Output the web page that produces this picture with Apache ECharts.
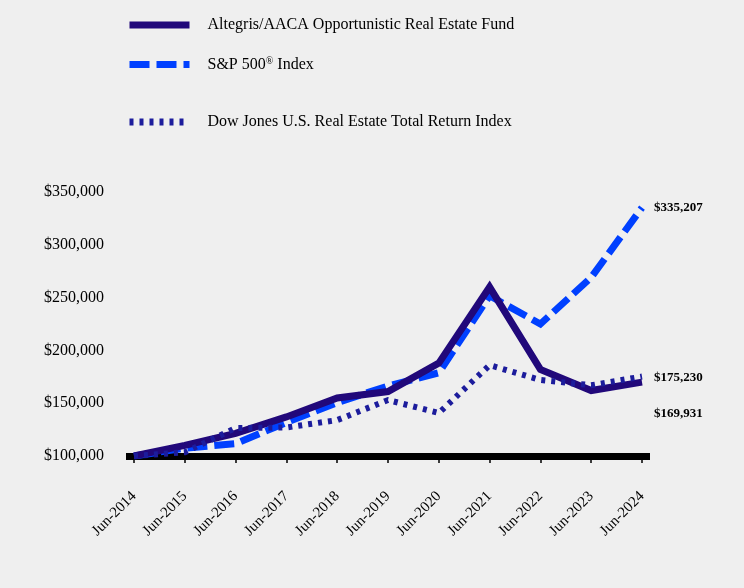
<!DOCTYPE html>
<html>
<head>
<meta charset="utf-8">
<script src="https://cdn.jsdelivr.net/npm/echarts@6/dist/echarts.min.js"></script>
<style>
html,body{margin:0;padding:0;background:#efefef;}
#chart{width:744px;height:588px;}
</style>
</head>
<body>
<div id="chart"></div>
<script>
const categories = ['Jun-2014','Jun-2015','Jun-2016','Jun-2017','Jun-2018','Jun-2019','Jun-2020','Jun-2021','Jun-2022','Jun-2023','Jun-2024'];
const fundValues = [100000, 110000, 121500, 137000, 155000, 161000, 188000, 260000, 182000, 162000, 169931];
const spValues = [100000, 107420, 111706, 131701, 150627, 166323, 178815, 251754, 225018, 269099, 335207];
const djValues = [100000, 103500, 126500, 127000, 134000, 153000, 140700, 186000, 172000, 167000, 175230];
const yTicks = [100000, 150000, 200000, 250000, 300000, 350000];
const seriesNames = ['Altegris/AACA Opportunistic Real Estate Fund', 'S&P 500® Index', 'Dow Jones U.S. Real Estate Total Return Index'];

const serif = '"Liberation Serif","Times New Roman",serif';
const idx = categories.map((c, i) => i);
const toPairs = arr => arr.map((v, i) => [i, v]);
const money = v => '$' + Math.round(v).toLocaleString('en-US');

function endLabel(offsetY) {
  return {
    show: true,
    formatter: p => money(p.value[1]),
    fontFamily: serif, fontWeight: 'bold', fontSize: 13, color: '#000',
    distance: 12, offset: [0, offsetY]
  };
}

function legend(name, top) {
  return {
    data: [name], left: 126, top: top, orient: 'vertical', padding: 0,
    itemWidth: 60, itemHeight: 7,
    lineStyle: { width: 7 },
    itemStyle: { opacity: 0 },
    selectedMode: false,
    formatter: n => n.replace('®', '{sup|®}'),
    textStyle: {
      fontFamily: serif, fontSize: 16, color: '#000', padding: [0, 0, 0, 13],
      rich: { sup: { fontFamily: serif, fontSize: 10, color: '#000', padding: [0, 0, 7, 0] } }
    }
  };
}

const chart = echarts.init(document.getElementById('chart'), null, { renderer: 'canvas' });
chart.setOption({
  backgroundColor: '#efefef',
  animation: false,
  legend: [legend(seriesNames[0], 17), legend(seriesNames[1], 56), legend(seriesNames[2], 114)],
  grid: { left: 126, right: 94, top: 192, bottom: 132, containLabel: false },
  xAxis: {
    type: 'value', min: -0.1575, max: 10.1575,
    splitLine: { show: false },
    axisLine: { show: true, onZero: false, lineStyle: { color: '#000', width: 7, cap: 'butt' } },
    axisTick: { show: true, customValues: idx, length: 7, lineStyle: { color: '#000', width: 1.5 } },
    axisLabel: {
      customValues: idx, formatter: v => categories[Math.round(v)],
      rotate: 45, margin: 38, fontFamily: serif, fontSize: 15, color: '#000'
    }
  },
  yAxis: {
    type: 'value', min: yTicks[0], max: yTicks[yTicks.length - 1], interval: 50000,
    splitLine: { show: false },
    axisLine: { show: false }, axisTick: { show: false },
    axisLabel: { formatter: v => money(v), margin: 22, fontFamily: serif, fontSize: 16, color: '#000' }
  },
  series: [
    {
      name: seriesNames[1], type: 'line', data: toPairs(spValues), symbol: 'none', z: 2,
      lineStyle: { color: '#0040ff', width: 7, type: [20, 7], cap: 'butt', join: 'miter' },
      itemStyle: { color: '#0040ff' },
      endLabel: endLabel(0)
    },
    {
      name: seriesNames[0], type: 'line', data: toPairs(fundValues), symbol: 'none', z: 3,
      lineStyle: { color: '#21087a', width: 7, type: 'solid', cap: 'butt', join: 'miter' },
      itemStyle: { color: '#21087a' },
      endLabel: endLabel(31)
    },
    {
      name: seriesNames[2], type: 'line', data: toPairs(djValues), symbol: 'none', z: 4,
      lineStyle: { color: '#1c1c9c', width: 6, type: [4, 6], cap: 'butt', join: 'miter' },
      itemStyle: { color: '#1c1c9c' },
      endLabel: endLabel(1.5)
    }
  ]
});
</script>
</body>
</html>
